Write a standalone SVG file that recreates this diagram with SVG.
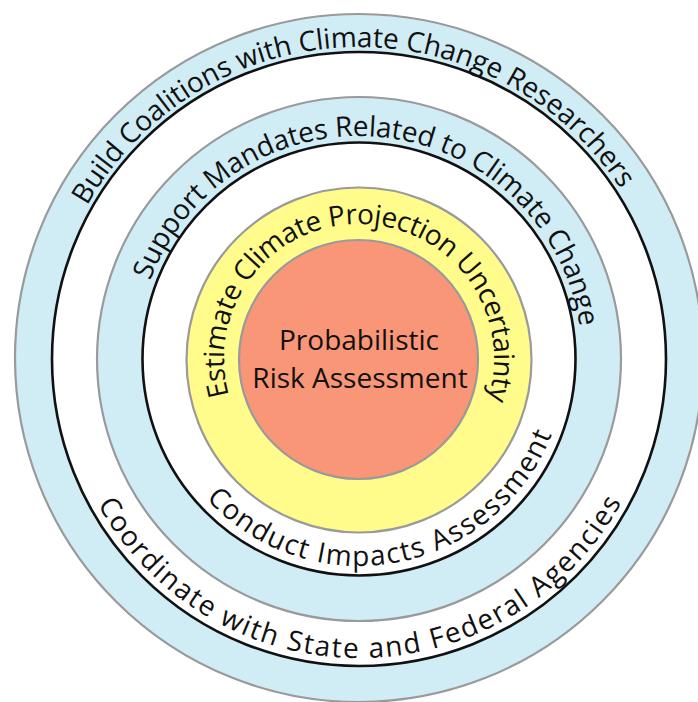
<svg xmlns="http://www.w3.org/2000/svg" width="698" height="702" viewBox="0 0 698 702">
<style>
  .ring-gray { stroke: #9a9a9a; stroke-width: 2.2; }
  .ring-black { stroke: #111; stroke-width: 2.6; }
  .blue { fill: #d0ecf4; }
  .white { fill: #ffffff; }
  .yellow { fill: #fffc8c; }
  .salmon { fill: #fa9678; }
  .lbl { font-family: "Open Sans", "Liberation Sans", sans-serif; font-size: 28px; fill: #111; }
</style>
<defs>
  <path id="p-build" d="M359,671 A312,312 0 1 1 359,47 A312,312 0 1 1 359,671"/>
  <path id="p-support" d="M359,582 A223,223 0 1 1 359,136 A223,223 0 1 1 359,582"/>
  <path id="p-estimate" d="M359,494 A135,135 0 1 1 359,224 A135,135 0 1 1 359,494"/>
  <path id="p-conduct" d="M359,152 A207,207 0 1 0 359,566 A207,207 0 1 0 359,152"/>
  <path id="p-coord" d="M359,60 A299,299 0 1 0 359,658 A299,299 0 1 0 359,60"/>
</defs>
<rect width="698" height="702" fill="#ffffff"/>

<g id="ring-outer">
  <circle cx="359" cy="358" r="344" class="blue ring-gray"/>
  <circle cx="359" cy="359" r="307" class="white ring-black"/>
  <text class="lbl" transform="rotate(-1.8 359 359)"><textPath href="#p-build" startOffset="50%" text-anchor="middle" textLength="640" lengthAdjust="spacing">Build Coalitions with Climate Change Researchers</textPath></text>
  <text class="lbl" transform="rotate(-0.2 359 359)"><textPath href="#p-coord" startOffset="50%" text-anchor="middle" textLength="638" lengthAdjust="spacing">Coordinate with State and Federal Agencies</textPath></text>
</g>

<g id="ring-middle">
  <circle cx="359" cy="359" r="262" class="blue ring-gray"/>
  <circle cx="359" cy="359" r="216.5" class="white ring-black"/>
  <text class="lbl" transform="rotate(6.1 359 359)"><textPath href="#p-support" startOffset="50%" text-anchor="middle" textLength="588" lengthAdjust="spacing">Support Mandates Related to Climate Change</textPath></text>
  <text class="lbl" transform="rotate(-10.5 359 359)"><textPath href="#p-conduct" startOffset="50%" text-anchor="middle" textLength="420" lengthAdjust="spacing">Conduct Impacts Assessment</textPath></text>
</g>

<g id="ring-inner">
  <circle cx="359" cy="360" r="172.5" class="yellow ring-gray"/>
  <text class="lbl" transform="rotate(0.9 359 359)"><textPath href="#p-estimate" startOffset="50%" text-anchor="middle" textLength="502" lengthAdjust="spacing">Estimate Climate Projection Uncertainty</textPath></text>
</g>

<g id="core">
  <circle cx="358.5" cy="359.5" r="119.5" class="salmon ring-gray"/>
  <text class="lbl" x="359" y="350" text-anchor="middle">Probabilistic</text>
  <text class="lbl" x="360" y="388" text-anchor="middle">Risk Assessment</text>
</g>
</svg>
